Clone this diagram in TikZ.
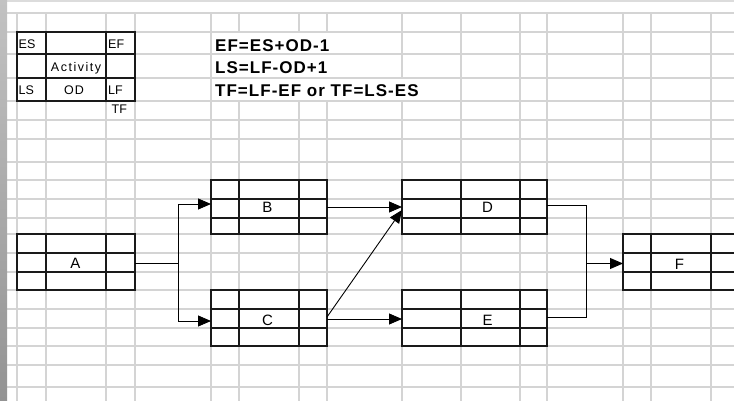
\documentclass[tikz,border=0pt]{standalone}
\usepackage{fontspec}
\setmainfont{Liberation Sans}
\newfontfamily\cellfont{Liberation Sans}
\newfontfamily\formfont[LetterSpace=6]{Liberation Sans}
\usetikzlibrary{arrows.meta,fit}

\definecolor{gridgray}{HTML}{D4D4D4}
\definecolor{boxcol}{HTML}{1A1A1A}
\definecolor{bartop}{HTML}{C2C2C2}
\definecolor{barbottom}{HTML}{939393}
\definecolor{bandcol}{HTML}{DCDCDC}

\tikzset{
  gridline/.style={draw=gridgray, line width=1.2pt},
  boxframe/.style={draw=boxcol, line width=1.5pt, inner sep=0pt, outer sep=0pt},
  boxline/.style={draw=boxcol, line width=1.5pt},
  conn/.style={draw=black, line width=0.9pt},
  arr/.style={conn, -{Triangle[length=13pt,width=11pt]}},
  keytext/.style={font=\cellfont\fontsize{12.5}{13}\selectfont, inner sep=0pt, text=black},
  actlabel/.style={font=\cellfont\fontsize{15}{15}\selectfont, inner sep=0pt, anchor=base},
  formula/.style={font=\formfont\bfseries\fontsize{17}{17}\selectfont, inner sep=0pt, anchor=base west},
}

% activity box: name, four column edges, four row edges
\newcommand\actbox[9]{%
  \node[boxframe, fit={(#2,#6) (#5,#9)}] (#1) {};
  \draw[boxline] (#3,#6) -- (#3,#9) (#4,#6) -- (#4,#9) (#2,#7) -- (#5,#7) (#2,#8) -- (#5,#8);
}

\begin{document}
\begin{tikzpicture}[x=1pt, y=-1pt]
  \useasboundingbox (0,0) rectangle (734,401);
  \clip (0,0) rectangle (734,401);
  \fill[white] (0,0) rectangle (734,401);

  % sheet grid
  \foreach \gx in {17,46,106,135,211,239,299,327,402,461,520,547,623,651,711}
    \draw[gridline] (\gx,13) -- (\gx,401);
  \foreach \gy in {13,32,54,78,101,120,139,162,180,199,218,234,253,272,290,309,328,346,365,387}
    \draw[gridline] (7,\gy) -- (734,\gy);

  % merged cells holding the formulas
  \fill[white] (211.7,32.7) rectangle (401.3,53.3);
  \fill[white] (211.7,54.7) rectangle (401.3,77.3);
  \fill[white] (211.7,78.7) rectangle (460.3,100.3);

  % window edges
  \fill[bandcol] (0,0) rectangle (734,2);
  \shade[top color=bartop, bottom color=barbottom] (0,0) rectangle (7,401);

  % key box
  \actbox{key}{17}{46}{106}{135}{32}{54}{78}{101}
  \node[keytext, anchor=base west] (kes) at (18.5,49) {ES};
  \node[keytext, anchor=base west] (kef) at (108,49) {EF};
  \node[keytext, anchor=base] (kact) at (76,71.7) {\addfontfeature{LetterSpace=12}Activity};
  \node[keytext, anchor=base west] (kls) at (18.5,95) {LS};
  \node[keytext, anchor=base] (kod) at (74,95) {\addfontfeature{LetterSpace=8}OD};
  \node[keytext, anchor=base west] (klf) at (108,95) {LF};
  \node[keytext, anchor=base west] (ktf) at (111.5,113.3) {TF};

  % formulas
  \node[formula] (f1) at (215,51.7) {EF=ES+OD-1};
  \node[formula] (f2) at (215,74) {LS=LF-OD+1};
  \node[formula] (f3) at (215,96.7) {TF=LF-EF or TF=LS-ES};

  % activities
  \actbox{A}{17}{46}{106}{135}{234}{253}{272}{290}
  \actbox{B}{211}{239}{299}{327}{180}{199}{218}{234}
  \actbox{C}{211}{239}{299}{327}{290}{309}{328}{346}
  \actbox{D}{402}{461}{520}{547}{180}{199}{218}{234}
  \actbox{E}{402}{461}{520}{547}{290}{309}{328}{346}
  \actbox{F}{623}{651}{711}{739}{234}{253}{272}{290}

  \node[actlabel] (la) at (75.5,268.3) {A};
  \node[actlabel] (lb) at (267.5,212.3) {B};
  \node[actlabel] (lc) at (267.5,325) {C};
  \node[actlabel] (ld) at (487.5,212.3) {D};
  \node[actlabel] (le) at (487.5,325) {E};
  \node[actlabel] (lf) at (679.5,269) {F};

  % dependencies
  \coordinate (splitA) at (178,263.5);
  \coordinate (joinF) at (586,263.5);
  \draw[conn] (A.east |- splitA) -- (splitA);
  \draw[arr] (splitA) |- ([yshift=3pt]B.west);
  \draw[arr] (splitA) |- ([yshift=-3pt]C.west);
  \draw[arr] (B.east) -- (D.west);
  \draw[arr] ([yshift=1pt]C.east) -- ([yshift=-3pt]D.west);
  \draw[arr] ([yshift=-1pt]C.east) -- ([yshift=-1pt]E.west);
  \draw[conn] ([yshift=2pt]D.east) -| (joinF);
  \draw[conn] ([yshift=1pt]E.east) -| (joinF);
  \draw[arr] (joinF) -- (F.west |- joinF);
\end{tikzpicture}
\end{document}
